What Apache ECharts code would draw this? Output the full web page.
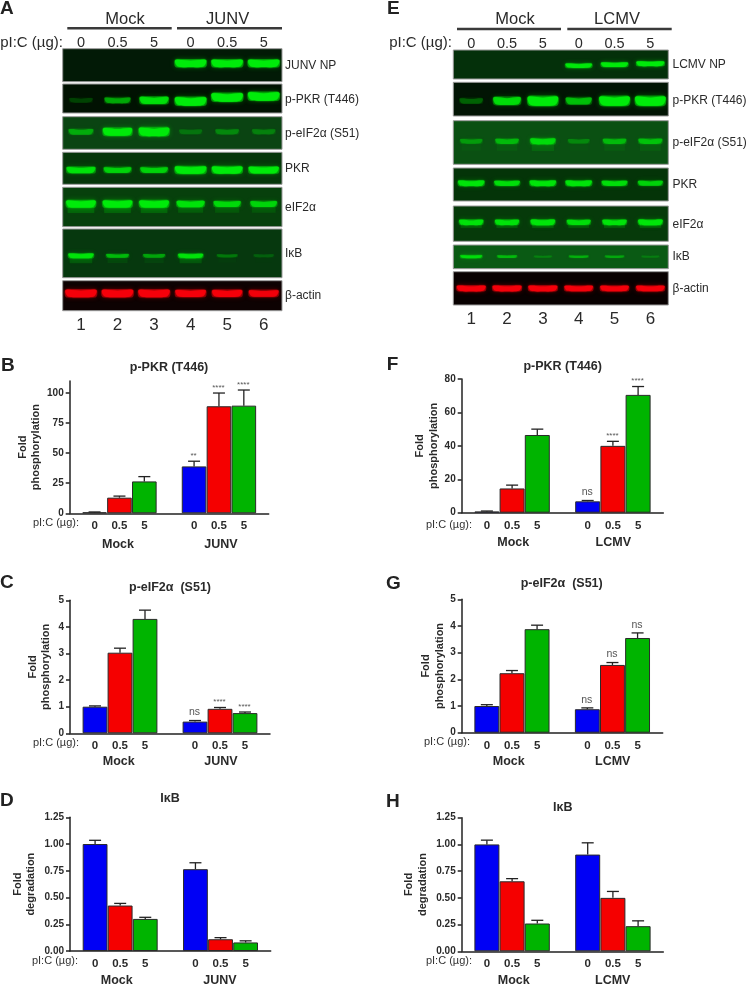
<!DOCTYPE html>
<html>
<head>
<meta charset="utf-8">
<style>html,body{margin:0;padding:0;background:#fff}#c{width:750px;height:986px}</style>
<script src="https://cdn.jsdelivr.net/npm/echarts@6/dist/echarts.min.js"></script>
</head>
<body>
<div id="c"></div>
<script>
// ---------- data ----------
const doseLabels = ['0', '0.5', '5'];
const laneNumbers = ['1', '2', '3', '4', '5', '6'];

// blot band intensities (0-1), one per lane
const a_junvNP = [0, 0, 0, 1, 1, 1];
const a_pPKR = [0.04, 0.35, 0.7, 1, 1, 1];
const a_peIF = [0.3, 0.85, 1, 0.08, 0.15, 0.12];
const a_PKR = [0.7, 0.55, 0.55, 1, 0.9, 0.85];
const a_eIF = [0.9, 0.9, 0.9, 0.7, 0.6, 0.55];
const a_IkB = [0.75, 0.4, 0.3, 0.7, 0.12, 0.04];
const a_actin = [1, 1, 1, 0.9, 0.85, 0.8];

const e_lcmvNP = [0, 0, 0, 0.8, 0.85, 0.95];
const e_pPKR = [0.12, 0.65, 1, 0.45, 1, 1];
const e_peIF = [0.2, 0.35, 0.6, 0.12, 0.35, 0.4];
const e_PKR = [0.75, 0.65, 0.75, 0.75, 0.65, 0.55];
const e_eIF = [0.7, 0.7, 0.75, 0.65, 0.7, 0.75];
const e_IkB = [0.65, 0.35, 0.08, 0.3, 0.25, 0.05];
const e_actin = [0.95, 0.95, 0.95, 0.9, 0.9, 0.9];

// bar values and error-bar tops: Mock 0/0.5/5 then virus 0/0.5/5
const b_vals = [0.8, 13, 26.5, 39, 89, 89.5];
const b_errs = [1.1, 14.3, 30.5, 43.3, 100, 102.5];
const b_sig = ['', '', '', '**', '****', '****'];
const c_vals = [1, 3.03, 4.3, 0.44, 0.92, 0.76];
const c_errs = [1.03, 3.2, 4.63, 0.48, 0.97, 0.8];
const c_sig = ['', '', '', 'ns', '****', '****'];
const d_vals = [1, 0.425, 0.3, 0.765, 0.11, 0.08];
const d_errs = [1.035, 0.445, 0.315, 0.825, 0.125, 0.095];
const f_vals = [0.7, 14.5, 46.5, 6.8, 40, 70.5];
const f_errs = [1, 16.5, 50, 7.3, 42.7, 75.5];
const f_sig = ['', '', '', 'ns', '****', '****'];
const g_vals = [1, 2.23, 3.88, 0.88, 2.54, 3.55];
const g_errs = [1.05, 2.33, 4.03, 0.93, 2.63, 3.74];
const g_sig = ['', '', '', 'ns', 'ns', 'ns'];
const h_vals = [1, 0.655, 0.26, 0.905, 0.5, 0.235];
const h_errs = [1.04, 0.68, 0.29, 1.015, 0.56, 0.285];

const ticks100 = [0, 25, 50, 75, 100];
const ticks80 = [0, 20, 40, 60, 80];
const ticks5 = [0, 1, 2, 3, 4, 5];
const ticks125 = [0, 0.25, 0.5, 0.75, 1, 1.25];

// ---------- layout ----------
const FONT = '"Liberation Sans", Arial, sans-serif';
const INK = '#2a2a2a';
const elements = [];
function text(s, x, y, size, opt) {
  opt = opt || {};
  elements.push({
    type: 'text', silent: true, z: 20,
    style: {
      x: x, y: y, text: s, fill: opt.fill || INK,
      font: (opt.bold ? 'bold ' : '') + size + 'px ' + FONT,
      textAlign: opt.align || 'center', textVerticalAlign: 'middle'
    }
  });
}
function rule(x1, x2, y) {
  elements.push({ type: 'rect', silent: true, z: 20, shape: { x: x1, y: y - 1.2, width: x2 - x1, height: 2.4 }, style: { fill: '#3a3a3a' } });
}

const grids = [], xAxes = [], yAxes = [], series = [];

// ---- blot panels ----
function addBlot(p, left, right, first, last, labelX, lblSize) {
  const k = grids.length;
  grids.push({
    left: left, width: right - left, top: p.top, height: p.bottom - p.top,
    show: true, backgroundColor: p.bg, borderColor: '#9a9a9a', borderWidth: 1, containLabel: false
  });
  const shownX = first || last;
  xAxes.push({
    gridIndex: k, type: 'category', show: shownX,
    position: first ? 'top' : 'bottom',
    data: first ? doseLabels.concat(doseLabels) : laneNumbers,
    axisLine: { show: false }, axisTick: { show: false },
    axisLabel: first
      ? { interval: 0, margin: 0, fontSize: 14.5, lineHeight: 12, color: INK, fontFamily: FONT }
      : { interval: 0, margin: 6, fontSize: 17, color: INK, fontFamily: FONT }
  });
  yAxes.push({ gridIndex: k, type: 'value', show: false, min: 0, max: 1, inverse: true });
  const col = p.rgb;
  series.push({
    type: 'custom', xAxisIndex: k, yAxisIndex: k, silent: true, clip: true,
    data: p.values.map((v, i) => [i, v]),
    renderItem: function (params, api) {
      const lane = api.value(0), v = api.value(1);
      const c = api.coord([lane, p.bandY]);
      const shift = p.shift ? p.shift[lane] : 0;
      const x = c[0], y = c[1] + shift;
      if (v <= 0) return { type: 'group', children: [] };
      const w = p.w * (0.78 + 0.27 * v), h = p.h * (0.6 + 0.5 * v);
      const op = Math.min(1, 0.1 + 0.95 * Math.pow(v, 0.9));
      const children = [];
      if (p.smear) {
        children.push({
          type: 'rect', shape: { x: x - w / 2 + 2, y: y + h * 0.3, width: w - 4, height: p.smear },
          style: { fill: 'rgba(' + col + ',' + (0.22 * v) + ')', shadowBlur: 5, shadowColor: 'rgba(' + col + ',' + (0.22 * v) + ')' }
        });
      }
      // soft halo
      children.push({
        type: 'rect', shape: { x: x - w / 2, y: y - h * 0.55, width: w, height: h * 1.1, r: h * 0.4 },
        style: { fill: 'rgba(' + col + ',' + (0.45 * op) + ')', shadowBlur: 5, shadowColor: 'rgba(' + col + ',' + (0.7 * op) + ')' }
      });
      // bright core
      children.push({
        type: 'polygon',
        shape: {
          smooth: 0.3,
          points: [
            [x - w * 0.47, y - h * 0.4], [x, y - h * 0.32], [x + w * 0.47, y - h * 0.4],
            [x + w * 0.4, y + h * 0.38], [x, y + h * 0.5], [x - w * 0.4, y + h * 0.38]
          ]
        },
        style: { fill: 'rgba(' + col + ',' + op + ')', shadowBlur: 2, shadowColor: 'rgba(' + col + ',' + op + ')' }
      });
      return { type: 'group', children: children };
    }
  });
  text(p.name, labelX, p.labelY, lblSize, { align: 'left' });
}
const G = '0,235,10', R = '245,0,10';
const blotA = [
  { name: 'JUNV NP', values: a_junvNP, top: 48.7, bottom: 81.7, bandY: 0.44, w: 31, h: 7, bg: '#021a06', rgb: G, labelY: 66 },
  { name: 'p-PKR (T446)', values: a_pPKR, top: 84, bottom: 113, bandY: 0.56, w: 31, h: 8, bg: '#011202', rgb: G, labelY: 100, shift: [0, 0, 0, 1, -3, -4] },
  { name: 'p-eIF2α (S51)', values: a_peIF, top: 116.7, bottom: 149.3, bandY: 0.46, w: 30, h: 8, bg: '#0a4412', rgb: G, labelY: 134 },
  { name: 'PKR', values: a_PKR, top: 152.3, bottom: 184.3, bandY: 0.55, w: 31, h: 7, bg: '#06360a', rgb: G, labelY: 169 },
  { name: 'eIF2α', values: a_eIF, top: 187.3, bottom: 226.7, bandY: 0.42, w: 30, h: 7, bg: '#07400c', rgb: G, labelY: 208, smear: 7 },
  { name: 'IκB', values: a_IkB, top: 229, bottom: 277.7, bandY: 0.55, w: 27, h: 5, bg: '#06380e', rgb: G, labelY: 254, smear: 6 },
  { name: 'β-actin', values: a_actin, top: 280.7, bottom: 310.7, bandY: 0.42, w: 31, h: 7, bg: '#0d0202', rgb: R, labelY: 296 }
];
const blotE = [
  { name: 'LCMV NP', values: e_lcmvNP, top: 50, bottom: 79, bandY: 0.54, w: 28, h: 4.5, bg: '#04300a', rgb: G, labelY: 65, shift: [0, 0, 0, 0, -1, -2] },
  { name: 'p-PKR (T446)', values: e_pPKR, top: 82.3, bottom: 116, bandY: 0.55, w: 30, h: 9, bg: '#021504', rgb: G, labelY: 101 },
  { name: 'p-eIF2α (S51)', values: e_peIF, top: 120.7, bottom: 164.3, bandY: 0.47, w: 28, h: 7, bg: '#0a5012', rgb: G, labelY: 143, smear: 8 },
  { name: 'PKR', values: e_PKR, top: 168, bottom: 201, bandY: 0.46, w: 28, h: 6, bg: '#043408', rgb: G, labelY: 185 },
  { name: 'eIF2α', values: e_eIF, top: 206, bottom: 241.3, bandY: 0.46, w: 26, h: 6, bg: '#063a0a', rgb: G, labelY: 225, smear: 4 },
  { name: 'IκB', values: e_IkB, top: 245, bottom: 268.7, bandY: 0.49, w: 24, h: 3.5, bg: '#0a5a14', rgb: G, labelY: 257 },
  { name: 'β-actin', values: e_actin, top: 271.7, bottom: 305, bandY: 0.5, w: 29, h: 5.5, bg: '#080101', rgb: R, labelY: 289 }
];
blotA.forEach((p, i) => addBlot(p, 62.7, 282, i === 0, i === blotA.length - 1, 285, 12));
blotE.forEach((p, i) => addBlot(p, 453.3, 668.3, i === 0, i === blotE.length - 1, 672.5, 12));

// headers
rule(67.3, 171.7, 28.3); rule(177, 282, 28.3);
rule(457, 561, 29); rule(567.3, 671.7, 29);
text('Mock', 125, 19, 16.5); text('JUNV', 227.6, 19, 16.5);
text('Mock', 515, 19.5, 16.5); text('LCMV', 617, 19.5, 16.5);
text('pI:C (µg):', 63, 43, 15, { align: 'right' });
text('pI:C (µg):', 452, 43, 15, { align: 'right' });

// ---- bar charts ----
const cats = [''].concat(doseLabels, [''], doseLabels, ['']);
const doseColors = ['#0000f5', '#f50000', '#00b400'];
function addBars(c) {
  const k = grids.length;
  grids.push({ left: c.left, width: c.right - c.left, top: c.top, height: c.bottom - c.top, containLabel: false });
  xAxes.push({
    gridIndex: k, type: 'category', data: cats, boundaryGap: false,
    axisLine: { lineStyle: { color: '#222', width: 1.5 } }, axisTick: { show: false },
    axisLabel: { interval: 0, margin: 7, fontSize: 11.5, fontWeight: 'bold', color: INK, fontFamily: FONT }
  });
  yAxes.push({
    gridIndex: k, type: 'value', min: 0, max: c.max, splitLine: { show: false },
    name: 'Fold\n' + c.yName, nameLocation: 'middle', nameRotate: 90, nameGap: c.nameGap,
    nameTextStyle: { fontSize: 11, fontWeight: 'bold', color: INK, fontFamily: FONT, lineHeight: 13.5, verticalAlign: 'bottom' },
    axisLine: { show: true, lineStyle: { color: '#222', width: 1.5 } },
    axisTick: { show: true, length: 4, customValues: c.ticks, lineStyle: { color: '#222', width: 1.5 } },
    axisLabel: {
      margin: 6, fontSize: 10, fontWeight: 'bold', color: INK, fontFamily: FONT, customValues: c.ticks,
      formatter: v => (c.decimals ? Number(v).toFixed(c.decimals) : String(v))
    }
  });
  // slots on the category axis: 1,2,3 Mock; 5,6,7 virus
  const slot = i => (i < 3 ? i + 1 : i + 2);
  doseLabels.forEach((d, di) => {
    const data = cats.map(() => null);
    [di, di + 3].forEach(i => { data[slot(i)] = c.vals[i]; });
    series.push({
      type: 'bar', name: 'pI:C ' + d, xAxisIndex: k, yAxisIndex: k, barWidth: c.barW, barGap: '-100%', silent: true,
      itemStyle: { color: doseColors[di], borderColor: '#2a2a2a', borderWidth: 1 },
      data: data
    });
  });
  series.push({
    type: 'custom', xAxisIndex: k, yAxisIndex: k, silent: true, z: 3,
    data: c.vals.map((v, i) => [slot(i), v, c.errs[i]]),
    encode: { x: 0, y: [1, 2] },
    renderItem: function (params, api) {
      const x = api.value(0);
      const lo = api.coord([x, api.value(1)]), hi = api.coord([x, api.value(2)]);
      const st = { stroke: '#222', lineWidth: 1.3, fill: null };
      const ch = [
        { type: 'line', shape: { x1: lo[0], y1: lo[1], x2: hi[0], y2: hi[1] }, style: st },
        { type: 'line', shape: { x1: hi[0] - 6, y1: hi[1], x2: hi[0] + 6, y2: hi[1] }, style: st }
      ];
      const s = c.sig ? c.sig[params.dataIndex] : '';
      if (s) {
        const stars = s.charAt(0) === '*';
        ch.push({
          type: 'text',
          style: {
            x: hi[0] - 0.5, y: hi[1] - (stars ? 5.5 : 8), text: s,
            font: (stars ? 8 : 10.5) + 'px ' + FONT, fill: '#555', textAlign: 'center', textVerticalAlign: 'middle'
          }
        });
      }
      return { type: 'group', children: ch };
    }
  });
  text(c.title, c.titleX, c.titleY, 12.5, { bold: true });
  text('Mock', c.mockX, c.groupY, 12.5, { bold: true });
  text(c.virus, c.virusX, c.groupY, 12.5, { bold: true });
  text('pI:C (µg):', c.pX, c.pY, 11, { align: 'right', fill: '#333' });
  text(c.letter, c.letterX, c.letterY, 19, { bold: true, align: 'left', fill: '#222' });
}
text('A', 0, 9, 19, { bold: true, align: 'left', fill: '#222' });
text('E', 387, 9, 19, { bold: true, align: 'left', fill: '#222' });

addBars({ letter: 'B', letterX: 1, letterY: 366, title: 'p-PKR (T446)', titleX: 169, titleY: 368, left: 69.7, right: 268.7, top: 381, bottom: 513.3, max: 110, ticks: ticks100, vals: b_vals, errs: b_errs, sig: b_sig, yName: 'phosphorylation', nameGap: 19, virus: 'JUNV', mockX: 118, virusX: 221, groupY: 544.7, pX: 79, pY: 523, barW: 24.6 });
addBars({ letter: 'C', letterX: 0, letterY: 583, title: 'p-eIF2α  (S51)', titleX: 170, titleY: 588, left: 70, right: 270, top: 600.3, bottom: 733.3, max: 5, ticks: ticks5, vals: c_vals, errs: c_errs, sig: c_sig, yName: 'phosphorylation', nameGap: 17, virus: 'JUNV', mockX: 118.7, virusX: 221, groupY: 762, pX: 79, pY: 743, barW: 24.8 });
addBars({ letter: 'D', letterX: 0, letterY: 801, title: 'IκB', titleX: 170, titleY: 799, left: 70, right: 270.7, top: 817.3, bottom: 951, max: 1.25, ticks: ticks125, decimals: 2, vals: d_vals, errs: d_errs, yName: 'degradation', nameGap: 32, virus: 'JUNV', mockX: 116.7, virusX: 220, groupY: 980.7, pX: 78, pY: 961, barW: 24.8 });
addBars({ letter: 'F', letterX: 386.7, letterY: 365, title: 'p-PKR (T446)', titleX: 562.7, titleY: 367, left: 461.7, right: 663.3, top: 379, bottom: 512.7, max: 80, ticks: ticks80, vals: f_vals, errs: f_errs, sig: f_sig, yName: 'phosphorylation', nameGap: 18, virus: 'LCMV', mockX: 513.3, virusX: 613.3, groupY: 542.3, pX: 472, pY: 525, barW: 25 });
addBars({ letter: 'G', letterX: 386, letterY: 583.5, title: 'p-eIF2α  (S51)', titleX: 561.7, titleY: 584, left: 461.7, right: 662.7, top: 599.3, bottom: 732.7, max: 5, ticks: ticks5, vals: g_vals, errs: g_errs, sig: g_sig, yName: 'phosphorylation', nameGap: 14, virus: 'LCMV', mockX: 508.7, virusX: 612.7, groupY: 761.7, pX: 470, pY: 742, barW: 24.9 });
addBars({ letter: 'H', letterX: 386, letterY: 802, title: 'IκB', titleX: 562.7, titleY: 807.7, left: 461.7, right: 663.3, top: 817.7, bottom: 951.3, max: 1.25, ticks: ticks125, decimals: 2, vals: h_vals, errs: h_errs, yName: 'degradation', nameGap: 32, virus: 'LCMV', mockX: 513.7, virusX: 612.7, groupY: 980.7, pX: 472, pY: 961, barW: 25 });

const chart = echarts.init(document.getElementById('c'), null, { renderer: 'canvas' });
chart.setOption({
  animation: false, backgroundColor: '#fff',
  textStyle: { fontFamily: FONT },
  grid: grids, xAxis: xAxes, yAxis: yAxes, series: series,
  graphic: { elements: elements }
});
</script>
</body>
</html>
